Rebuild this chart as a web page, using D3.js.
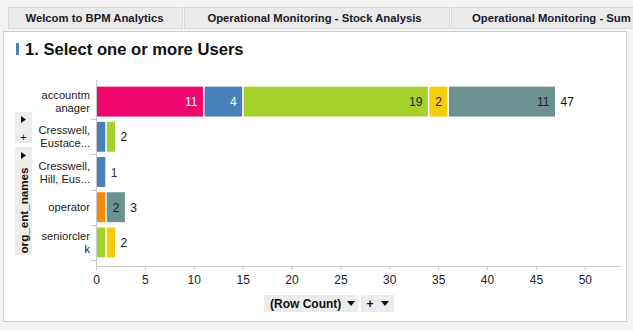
<!DOCTYPE html>
<html><head><meta charset="utf-8">
<script src="https://cdn.jsdelivr.net/npm/d3@7"></script>
<style>
html,body{margin:0;padding:0;background:#f4f4f4;}
svg{display:block;font-family:"Liberation Sans",Arial,sans-serif;}
</style></head>
<body><svg id="c" width="633" height="330"></svg>
<script>
const tabs = ["Welcom to BPM Analytics","Operational Monitoring - Stock Analysis","Operational Monitoring - Sum"];
const title = "1. Select one or more Users";
const categories = ["accountmanager","Cresswell, Eustace...","Cresswell, Hill, Eus...","operator","seniorclerk"];
const categoryLines = [["accountm","anager"],["Cresswell,","Eustace..."],["Cresswell,","Hill, Eus..."],["operator"],["seniorcler","k"]];
const seriesNames = ["A","B","C","D","E","F"];
const seriesColors = ["#f0066c","#4a80ba","#a6d12d","#f4cd0c","#f98b0b","#6c9191"];
const seriesTextColors = ["#ffffff","#ffffff","#222222","#222222","#222222","#222222"];
const valuesA = [11,0,0,0,0];
const valuesB = [4,1,1,0,0];
const valuesC = [19,1,0,0,1];
const valuesD = [2,0,0,0,1];
const valuesE = [0,0,0,1,0];
const valuesF = [11,0,0,2,0];
const xTicks = [0,5,10,15,20,25,30,35,40,45,50];
const axisTitle = "org_ent_names";
const measureLabel = "(Row Count)";

const seriesValues = [valuesA,valuesB,valuesC,valuesD,valuesE,valuesF];
const rows = categories.map((c,i)=>{const r={cat:c};seriesNames.forEach((s,j)=>r[s]=seriesValues[j][i]);return r;});
const totals = categories.map((c,i)=>d3.sum(seriesValues,v=>v[i]));

const svg = d3.select("#c");
// tabs
const tabX = [[8,183],[184,450],[451,640]];
const tabTextX = [94.5, 314.5, 472];
tabs.forEach((t,i)=>{
  svg.append("rect").attr("x",tabX[i][0]+0.5).attr("y",7.5).attr("width",tabX[i][1]-tabX[i][0]-1).attr("height",21)
    .attr("fill","#eaeaea").attr("stroke","#dadada");
  svg.append("text").attr("x",tabTextX[i]).attr("y",22)
    .attr("text-anchor",i==2?"start":"middle").attr("font-size",11.3).attr("font-weight","bold").attr("fill","#1a1a2a")
    .text(t);
});
// panel
svg.append("rect").attr("x",3.5).attr("y",31.5).attr("width",623).attr("height",290).attr("fill","#fff").attr("stroke","#cfcfcf");
svg.append("rect").attr("x",16).attr("y",43).attr("width",3).attr("height",12).attr("fill","#4a80ba");
svg.append("text").attr("x",25).attr("y",55).attr("font-size",16.6).attr("font-weight","bold").attr("fill","#111").text(title);

const x = d3.scaleLinear().domain([0,53.6]).range([96,620]);
const y = d3.scaleBand().domain(categories).range([84,260]).paddingInner(0.15).paddingOuter(0.075);

// axes
const xAxis = svg.append("g").attr("transform","translate(0,266)")
  .call(d3.axisBottom(x).tickValues(xTicks).tickSize(4).tickSizeOuter(0).tickFormat(d3.format("d")));
xAxis.select(".domain").attr("stroke","#c8c8c8");
xAxis.selectAll(".tick line").attr("stroke","#c8c8c8");
xAxis.selectAll(".tick text").attr("font-size",12).attr("fill","#222").attr("font-family","Liberation Sans, Arial").attr("dy","0.9em");

svg.append("line").attr("x1",96.5).attr("x2",96.5).attr("y1",80).attr("y2",266).attr("stroke","#c8c8c8");
const step = y.step();
const bounds = categories.map((c,i)=>y(c)+y.bandwidth()+ (step-y.bandwidth())/2);
svg.selectAll(".yt").data(bounds).join("line").attr("x1",91).attr("x2",96).attr("y1",d=>Math.round(d)+0.5).attr("y2",d=>Math.round(d)+0.5).attr("stroke","#c8c8c8");

// category labels
const lab = svg.append("g");
categories.forEach((c,i)=>{
  const lines = categoryLines[i];
  const cy = y(c)+y.bandwidth()/2;
  const t = lab.append("text").attr("text-anchor","end").attr("font-size",11.2).attr("fill","#222");
  lines.forEach((l,k)=>{
    t.append("tspan").attr("x",90).attr("y",cy + (k-(lines.length-1)/2)*13 + 4).text(l);
  });
});

// stacked bars
const stack = d3.stack().keys(seriesNames)(rows);
stack.forEach((layer,j)=>{
  const g = svg.append("g");
  layer.forEach(d=>{
    if(d[1]-d[0]<=0) return;
    const cat = d.data.cat;
    const x0 = x(d[0])+1, x1 = x(d[1])-0.5;
    g.append("rect").attr("x",x0).attr("y",y(cat)).attr("width",x1-x0).attr("height",y.bandwidth()).attr("fill",seriesColors[j]);
    if(d[1]-d[0]>=2){
      g.append("text").attr("x",x(d[1])-6).attr("y",y(cat)+y.bandwidth()/2+4.5).attr("text-anchor","end")
        .attr("font-size",12).attr("fill",seriesTextColors[j]).text(d[1]-d[0]);
    }
  });
});
// totals
svg.selectAll(".tot").data(categories).join("text").attr("x",(c,i)=>x(totals[i])+5).attr("y",c=>y(c)+y.bandwidth()/2+4.5)
  .attr("font-size",12).attr("fill",(c,i)=>totals[i]===1?"#4a1a6a":"#111").text((c,i)=>totals[i]);

// left controls
svg.append("rect").attr("x",15).attr("y",112).attr("width",17).attr("height",31).attr("fill","#ececec");
svg.append("path").attr("d","M21,116 L26,119.5 L21,123 Z").attr("fill","#111");
svg.append("text").attr("x",23.5).attr("y",141).attr("text-anchor","middle").attr("font-size",11).attr("fill","#111").text("+");
svg.append("rect").attr("x",15).attr("y",147).attr("width",17).attr("height",108).attr("fill","#ececec");
svg.append("path").attr("d","M21,152 L26,155.5 L21,159 Z").attr("fill","#111");
svg.append("text").attr("transform","translate(28,210.5) rotate(-90)").attr("text-anchor","middle").attr("font-size",11.5)
  .attr("font-weight","bold").attr("fill","#111").attr("textLength",86).attr("lengthAdjust","spacingAndGlyphs").text(axisTitle);

// bottom controls
svg.append("rect").attr("x",264).attr("y",295).attr("width",94).attr("height",17).attr("fill","#ececec");
svg.append("text").attr("x",270).attr("y",308).attr("font-size",12).attr("font-weight","bold").attr("fill","#111").text(measureLabel);
svg.append("path").attr("d","M347,301 L355,301 L351,306 Z").attr("fill","#111");
svg.append("rect").attr("x",361).attr("y",295).attr("width",33).attr("height",17).attr("fill","#ececec");
svg.append("text").attr("x",370).attr("y",308).attr("text-anchor","middle").attr("font-size",12).attr("font-weight","bold").attr("fill","#111").text("+");
svg.append("path").attr("d","M381,301 L389,301 L385,306 Z").attr("fill","#111");
</script></body></html>
